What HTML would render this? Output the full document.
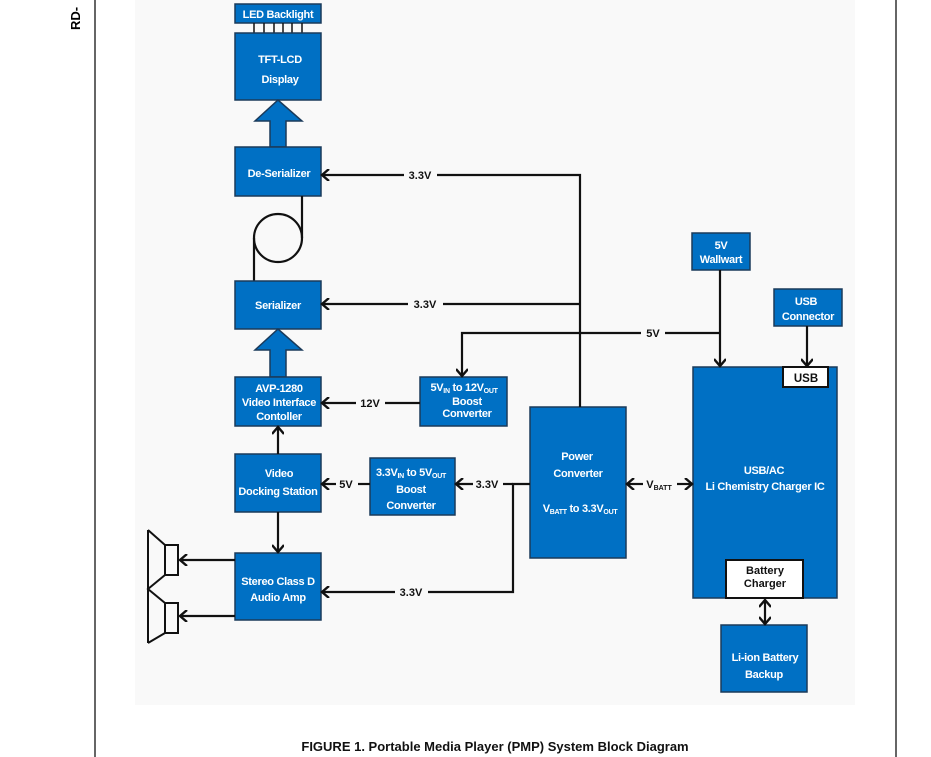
<!DOCTYPE html>
<html><head><meta charset="utf-8"><style>
html,body{margin:0;padding:0;background:#fff}
svg{display:block}
text{font-family:"Liberation Sans",sans-serif;font-weight:bold}
.b{fill:#0070c4;stroke:#1a3a5a;stroke-width:1.5}
.t{fill:#fff;font-size:11px;text-anchor:middle;letter-spacing:-0.3px}
.l{stroke:#111;stroke-width:2.2;fill:none}
.k{fill:#111;font-size:11px;text-anchor:middle}
</style></head><body>
<svg width="931" height="757" viewBox="0 0 931 757">
<defs><marker id="a" markerWidth="12" markerHeight="12" refX="9" refY="6" orient="auto" markerUnits="userSpaceOnUse"><path d="M2,0 L9,6 L2,12" fill="none" stroke="#111" stroke-width="2.4"/></marker>
<marker id="s" markerWidth="12" markerHeight="12" refX="3" refY="6" orient="auto" markerUnits="userSpaceOnUse"><path d="M10,0 L3,6 L10,12" fill="none" stroke="#111" stroke-width="2.4"/></marker></defs>
<rect x="135" y="0" width="720" height="705" fill="#f9f9f9"/>
<line x1="95" y1="0" x2="95" y2="757" stroke="#000" stroke-width="1.2"/>
<line x1="896" y1="0" x2="896" y2="757" stroke="#000" stroke-width="1.2"/>
<text x="0" y="0" transform="translate(80,30) rotate(-90)" style="font-size:13px;fill:#000">RD-</text>

<rect class="b" x="235" y="4" width="86" height="19"/><text class="t" x="278" y="18">LED Backlight</text>
<g stroke="#111" stroke-width="1.5"><line x1="254" y1="23" x2="254" y2="33"/><line x1="264" y1="23" x2="264" y2="33"/><line x1="274" y1="23" x2="274" y2="33"/><line x1="283" y1="23" x2="283" y2="33"/><line x1="292" y1="23" x2="292" y2="33"/><line x1="302" y1="23" x2="302" y2="33"/></g>
<rect class="b" x="235" y="33" width="86" height="67"/><text class="t" x="280" y="63">TFT-LCD</text><text class="t" x="280" y="83">Display</text>
<path class="b" d="M270,147 V121 H255 L278,100 L302,121 H286 V147 Z"/>
<rect class="b" x="235" y="147" width="86" height="49"/><text class="t" x="279" y="177">De-Serializer</text>
<path class="l" d="M302,196 V238"/><circle cx="278" cy="238" r="24" class="l"/><path class="l" d="M254,238 V281"/>
<rect class="b" x="235" y="281" width="86" height="48"/><text class="t" x="278" y="309">Serializer</text>
<path class="b" d="M270,377 V350 H255 L278,329 L302,350 H286 V377 Z"/>
<rect class="b" x="235" y="377" width="86" height="49"/><text class="t" x="279" y="392">AVP-1280</text><text class="t" x="279" y="406">Video Interface</text><text class="t" x="279" y="420">Contoller</text>
<rect class="b" x="235" y="454" width="86" height="58"/><text class="t" x="279" y="477">Video</text><text class="t" x="278" y="495">Docking Station</text>
<rect class="b" x="235" y="553" width="86" height="67"/><text class="t" x="278" y="585">Stereo Class D</text><text class="t" x="278" y="601">Audio Amp</text>
<rect class="b" x="420" y="377" width="87" height="49"/><text class="t" x="464" y="391">5V<tspan font-size="7" dy="2">IN</tspan><tspan dy="-2">  to 12V</tspan><tspan font-size="7" dy="2">OUT</tspan></text><text class="t" x="467" y="405">Boost</text><text class="t" x="467" y="417">Converter</text>
<rect class="b" x="370" y="458" width="85" height="57"/><text class="t" x="411" y="476">3.3V<tspan font-size="7" dy="2">IN</tspan><tspan dy="-2"> to 5V</tspan><tspan font-size="7" dy="2">OUT</tspan></text><text class="t" x="411" y="493">Boost</text><text class="t" x="411" y="509">Converter</text>
<rect class="b" x="530" y="407" width="96" height="151"/><text class="t" x="577" y="460">Power</text><text class="t" x="578" y="477">Converter</text><text class="t" x="580" y="512">V<tspan font-size="7" dy="2">BATT</tspan><tspan dy="-2"> to 3.3V</tspan><tspan font-size="7" dy="2">OUT</tspan></text>
<rect class="b" x="692" y="233" width="58" height="37"/><text class="t" x="721" y="249">5V</text><text class="t" x="721" y="263">Wallwart</text>
<rect class="b" x="774" y="289" width="68" height="37"/><text class="t" x="806" y="305">USB</text><text class="t" x="808" y="320">Connector</text>
<rect class="b" x="693" y="367" width="144" height="231"/><text class="t" x="764" y="474">USB/AC</text><text class="t" x="765" y="490">Li Chemistry Charger IC</text>
<rect x="783" y="367" width="45" height="20" fill="#fff" stroke="#111" stroke-width="2"/><text class="k" x="806" y="382" style="font-size:11.5px">USB</text>
<rect x="726" y="560" width="77" height="38" fill="#fff" stroke="#111" stroke-width="2"/><text class="k" x="765" y="574">Battery</text><text class="k" x="765" y="587">Charger</text>
<rect class="b" x="721" y="625" width="86" height="67"/><text class="t" x="765" y="661">Li-ion Battery</text><text class="t" x="764" y="678">Backup</text>

<path class="l" d="M580,407 V175 H437"/><path class="l" d="M404,175 H322" marker-end="url(#a)"/><text class="k" x="420" y="179">3.3V</text>
<path class="l" d="M580,304 H443"/><path class="l" d="M408,304 H322" marker-end="url(#a)"/><text class="k" x="425" y="308">3.3V</text>
<path class="l" d="M720,333 H665"/><path class="l" d="M641,333 H462 V376" marker-end="url(#a)"/><text class="k" x="653" y="337">5V</text>
<path class="l" d="M720,270 V366" marker-end="url(#a)"/>
<path class="l" d="M807,326 V366" marker-end="url(#a)"/>
<path class="l" d="M420,403 H385"/><path class="l" d="M356,403 H322" marker-end="url(#a)"/><text class="k" x="370" y="407">12V</text>
<path class="l" d="M370,484 H358"/><path class="l" d="M336,484 H322" marker-end="url(#a)"/><text class="k" x="346" y="488">5V</text>
<path class="l" d="M530,484 H513 V592 H428"/><path class="l" d="M395,592 H322" marker-end="url(#a)"/><text class="k" x="411" y="596">3.3V</text>
<path class="l" d="M513,484 H503"/><path class="l" d="M473,484 H456" marker-end="url(#a)"/><text class="k" x="487" y="488">3.3V</text>
<path class="l" d="M643,484 H627" marker-end="url(#a)"/><path class="l" d="M677,484 H692" marker-end="url(#a)"/><text class="k" x="659" y="488">V<tspan font-size="7" dy="2">BATT</tspan></text>
<path class="l" d="M765,600 V624" marker-start="url(#s)" marker-end="url(#a)"/>
<path class="l" d="M278,454 V427" marker-end="url(#a)"/>
<path class="l" d="M278,512 V552" marker-end="url(#a)"/>
<path class="l" d="M235,560 H180" marker-end="url(#a)"/>
<path class="l" d="M235,616 H180" marker-end="url(#a)"/>
<path d="M148,530 V643 M148,530 L165,545 M165,575 L148,589 L165,603 M165,633 L148,643" stroke="#111" stroke-width="2" fill="none"/>
<rect x="165" y="545" width="13" height="30" fill="none" stroke="#111" stroke-width="2"/>
<rect x="165" y="603" width="13" height="30" fill="none" stroke="#111" stroke-width="2"/>
<text x="495" y="751" style="font-size:13px;fill:#111;text-anchor:middle">FIGURE 1. Portable Media Player (PMP) System Block Diagram</text>
</svg>
</body></html>
